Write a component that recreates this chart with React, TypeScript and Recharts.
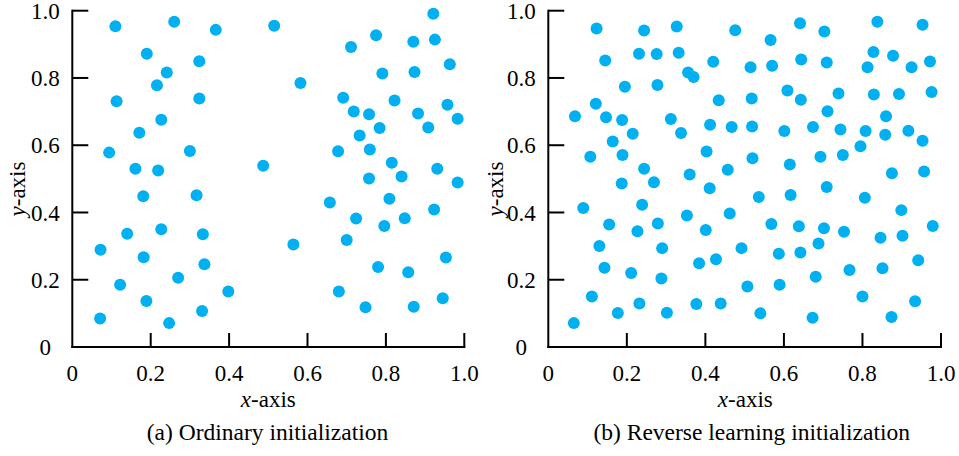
import React from "react";
import { ScatterChart, Scatter, XAxis, YAxis } from "recharts";

const ordinaryX = [0.11, 0.26, 0.366, 0.515, 0.921, 0.775, 0.711, 0.87, 0.925, 0.19, 0.324, 0.241, 0.216, 0.963, 0.791, 0.873, 0.582, 0.113, 0.324, 0.691, 0.822, 0.718, 0.757, 0.882, 0.957, 0.983, 0.227, 0.784, 0.908, 0.171, 0.733, 0.094, 0.3, 0.678, 0.759, 0.487, 0.161, 0.219, 0.815, 0.84, 0.757, 0.931, 0.983, 0.181, 0.317, 0.657, 0.809, 0.923, 0.14, 0.227, 0.333, 0.724, 0.796, 0.848, 0.072, 0.564, 0.7, 0.182, 0.337, 0.953, 0.122, 0.27, 0.78, 0.857, 0.189, 0.398, 0.68, 0.945, 0.071, 0.247, 0.331, 0.748, 0.871];
const ordinaryY = [0.954, 0.967, 0.943, 0.955, 0.991, 0.927, 0.892, 0.908, 0.914, 0.872, 0.85, 0.816, 0.778, 0.841, 0.813, 0.818, 0.785, 0.731, 0.739, 0.741, 0.733, 0.7, 0.692, 0.694, 0.72, 0.679, 0.676, 0.651, 0.653, 0.637, 0.629, 0.578, 0.583, 0.582, 0.587, 0.539, 0.53, 0.525, 0.548, 0.507, 0.501, 0.53, 0.489, 0.448, 0.451, 0.43, 0.441, 0.409, 0.337, 0.35, 0.335, 0.382, 0.36, 0.383, 0.289, 0.305, 0.318, 0.267, 0.246, 0.266, 0.185, 0.206, 0.238, 0.222, 0.137, 0.165, 0.165, 0.145, 0.085, 0.071, 0.107, 0.118, 0.12];

const reverseX = [0.123, 0.244, 0.327, 0.476, 0.566, 0.641, 0.703, 0.838, 0.953, 0.145, 0.231, 0.276, 0.332, 0.42, 0.356, 0.37, 0.515, 0.57, 0.644, 0.709, 0.813, 0.828, 0.878, 0.925, 0.972, 0.195, 0.278, 0.518, 0.434, 0.609, 0.643, 0.739, 0.829, 0.893, 0.976, 0.121, 0.068, 0.147, 0.188, 0.312, 0.711, 0.86, 0.215, 0.164, 0.338, 0.412, 0.467, 0.519, 0.601, 0.674, 0.744, 0.808, 0.858, 0.917, 0.953, 0.795, 0.107, 0.189, 0.403, 0.52, 0.615, 0.693, 0.75, 0.244, 0.36, 0.457, 0.269, 0.187, 0.411, 0.709, 0.875, 0.957, 0.536, 0.617, 0.806, 0.089, 0.239, 0.353, 0.462, 0.899, 0.155, 0.279, 0.227, 0.401, 0.568, 0.638, 0.702, 0.753, 0.979, 0.846, 0.902, 0.688, 0.13, 0.29, 0.492, 0.587, 0.642, 0.143, 0.384, 0.427, 0.767, 0.851, 0.942, 0.211, 0.288, 0.681, 0.507, 0.589, 0.111, 0.8, 0.934, 0.232, 0.377, 0.439, 0.177, 0.302, 0.54, 0.673, 0.874, 0.065];
const reverseY = [0.947, 0.941, 0.953, 0.942, 0.913, 0.963, 0.938, 0.967, 0.958, 0.852, 0.872, 0.871, 0.875, 0.848, 0.816, 0.803, 0.832, 0.836, 0.855, 0.846, 0.832, 0.877, 0.866, 0.832, 0.849, 0.774, 0.779, 0.739, 0.734, 0.763, 0.735, 0.754, 0.751, 0.752, 0.758, 0.723, 0.686, 0.683, 0.675, 0.678, 0.701, 0.686, 0.634, 0.611, 0.636, 0.661, 0.654, 0.656, 0.642, 0.654, 0.647, 0.642, 0.631, 0.643, 0.613, 0.597, 0.566, 0.571, 0.581, 0.561, 0.543, 0.566, 0.571, 0.53, 0.513, 0.527, 0.49, 0.486, 0.472, 0.476, 0.517, 0.522, 0.446, 0.452, 0.444, 0.413, 0.423, 0.391, 0.397, 0.407, 0.364, 0.367, 0.344, 0.348, 0.366, 0.359, 0.353, 0.343, 0.36, 0.325, 0.331, 0.308, 0.3, 0.294, 0.294, 0.277, 0.281, 0.236, 0.249, 0.261, 0.229, 0.234, 0.258, 0.22, 0.204, 0.209, 0.18, 0.185, 0.15, 0.15, 0.136, 0.129, 0.128, 0.129, 0.101, 0.102, 0.1, 0.087, 0.089, 0.071];

const axisTicks = [0, 0.2, 0.4, 0.6, 0.8, 1.0];
const tickLabels = ["0", "0.2", "0.4", "0.6", "0.8", "1.0"];

const ordinaryData = ordinaryX.map((x, i) => ({ x, y: ordinaryY[i] }));
const reverseData = reverseX.map((x, i) => ({ x, y: reverseY[i] }));

const FONT = "'Liberation Serif', 'Times New Roman', serif";
const DOT = "#00B0F0";
const TICK_FS = 23;
const TITLE_FS = 23;
const CAPTION_FS = 23.5;

const labelFor = (v: number) => {
  const idx = axisTicks.findIndex((t) => Math.abs(t - v) < 1e-9);
  return idx >= 0 ? tickLabels[idx] : String(v);
};

const YTick = (props: any) => {
  const { x, y, payload } = props;
  const v = payload.value;
  return (
    <g>
      <text x={x - 27} y={y + 8.2} textAnchor="middle" fontFamily={FONT} fontSize={TICK_FS} fill="#000">
        {labelFor(v)}
      </text>
      {v !== 0 && <line x1={x} x2={x + 16} y1={y} y2={y} stroke="#000" strokeWidth={2} />}
    </g>
  );
};

const XTick = (props: any) => {
  const { x, y, payload } = props;
  const v = payload.value;
  return (
    <g>
      <text x={x} y={y + 34} textAnchor="middle" fontFamily={FONT} fontSize={TICK_FS} fill="#000">
        {labelFor(v)}
      </text>
      {v !== 0 && <line x1={x} x2={x} y1={y} y2={y - 14} stroke="#000" strokeWidth={2} />}
    </g>
  );
};

const Dot = (p: any) => <circle cx={p.cx} cy={p.cy} r={6} fill={DOT} />;

const axisLineStyle = { stroke: "#000", strokeWidth: 2, strokeLinecap: "square" } as any;

function Panel({ data, width, margin, yWidth }: { data: any[]; width: number; margin: any; yWidth: number }) {
  return (
    <ScatterChart width={width} height={456} margin={margin} style={{ overflow: "visible" }}>
      <XAxis
        type="number"
        dataKey="x"
        domain={[0, 1]}
        ticks={axisTicks}
        tick={<XTick />}
        tickLine={false}
        tickSize={0}
        tickMargin={0}
        axisLine={axisLineStyle}
        height={30}
        interval={0}
      />
      <YAxis
        type="number"
        dataKey="y"
        domain={[0, 1]}
        ticks={axisTicks}
        tick={<YTick />}
        tickLine={false}
        tickSize={0}
        tickMargin={0}
        axisLine={axisLineStyle}
        width={yWidth}
        interval={0}
      />
      <Scatter data={data} shape={Dot} isAnimationActive={false} />
    </ScatterChart>
  );
}

export default function App() {
  return (
    <div style={{ position: "absolute", left: 0, top: 0, width: 959, height: 456, background: "#fff" }}>
      <div style={{ position: "absolute", left: 0, top: 0 }}>
        <Panel data={ordinaryData} width={480} yWidth={72.3} margin={{ top: 10.7, right: 15.7, bottom: 79, left: 0 }} />
      </div>
      <div style={{ position: "absolute", left: 480, top: 0 }}>
        <Panel data={reverseData} width={479} yWidth={68.3} margin={{ top: 10.7, right: 18, bottom: 79, left: 0 }} />
      </div>
      <svg
        width={959}
        height={456}
        style={{ position: "absolute", left: 0, top: 0, pointerEvents: "none" }}
        fontFamily={FONT}
        fill="#000"
      >
        <text x={268.3} y={407} textAnchor="middle" fontSize={TITLE_FS}>
          <tspan fontStyle="italic">x</tspan>
          <tspan>-axis</tspan>
        </text>
        <text x={745.3} y={407} textAnchor="middle" fontSize={TITLE_FS}>
          <tspan fontStyle="italic">x</tspan>
          <tspan>-axis</tspan>
        </text>
        <text x={267.5} y={440} textAnchor="middle" fontSize={CAPTION_FS}>
          (a) Ordinary initialization
        </text>
        <text x={751.7} y={440} textAnchor="middle" fontSize={CAPTION_FS}>
          (b) Reverse learning initialization
        </text>
        <text x={25} y={189} transform="rotate(-90 25 189)" textAnchor="middle" fontSize={TITLE_FS}>
          <tspan fontStyle="italic">y</tspan>
          <tspan>-axis</tspan>
        </text>
        <text x={503} y={189} transform="rotate(-90 503 189)" textAnchor="middle" fontSize={TITLE_FS}>
          <tspan fontStyle="italic">y</tspan>
          <tspan>-axis</tspan>
        </text>
      </svg>
    </div>
  );
}
